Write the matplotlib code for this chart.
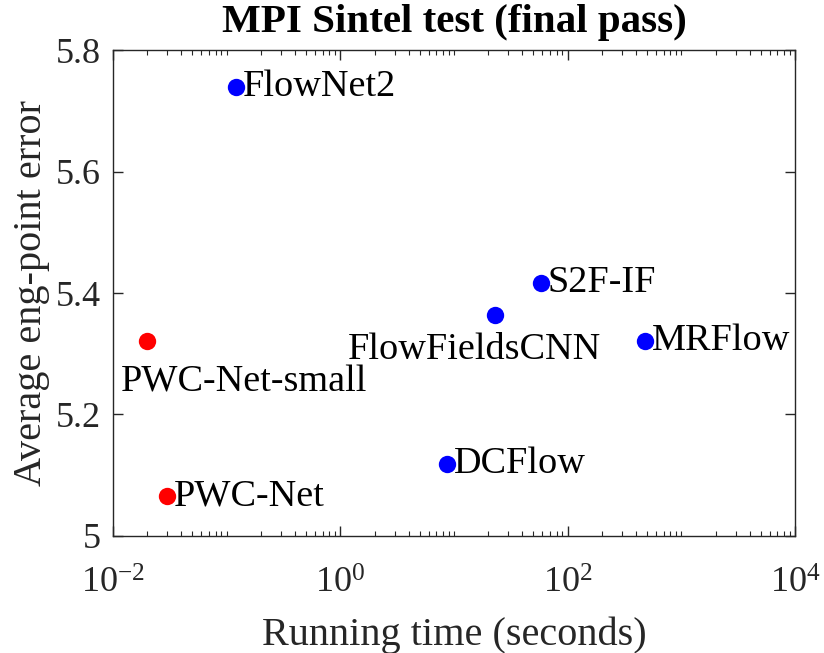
import numpy as np
import matplotlib

matplotlib.use('Agg')
import matplotlib.pyplot as plt
from matplotlib.ticker import LogLocator, NullFormatter

plt.rcParams['font.family'] = ['Liberation Serif', 'DejaVu Serif']
plt.rcParams['mathtext.fontset'] = 'stix'

# running time (s) vs. average end-point error on Sintel final
methods = ["FlowNet2", "PWC-Net-small", "PWC-Net", "DCFlow", "FlowFieldsCNN", "S2F-IF", "MRFlow"]
run_time = [0.12, 0.02, 0.03, 8.6, 23.0, 58.0, 480.0]
epe = [5.739, 5.321, 5.065, 5.119, 5.363, 5.417, 5.321]
ours = [False, True, True, False, False, False, False]

# label placement: offset in points and alignment per method
label_pos = {
    "FlowNet2": ((5, 0), 'left', 'center'),
    "PWC-Net-small": ((-19, -17), 'left', 'top'),
    "PWC-Net": ((5, 0), 'left', 'center'),
    "DCFlow": ((5, 0), 'left', 'center'),
    "FlowFieldsCNN": ((-15, -12), 'center', 'top'),
    "S2F-IF": ((5, 0), 'left', 'center'),
    "MRFlow": ((5, 0), 'left', 'center'),
}

fig = plt.figure(figsize=(8.24, 6.53), dpi=100)
ax = fig.add_axes([0.1371, 0.1792, 0.8277, 0.7442])

for name, t, e, mine in zip(methods, run_time, epe, ours):
    ax.plot(t, e, 'o', color='#ff0000' if mine else '#0000ff', markersize=12.5,
            markeredgewidth=0)
    off, ha, va = label_pos[name]
    ax.annotate(name, (t, e), xytext=off, textcoords='offset points',
                ha=ha, va=va, fontsize=27.5, color='black')

ax.set_xscale('log')
ax.set_xlim(1e-2, 1e4)
ax.set_ylim(5.0, 5.8)
ax.set_xticks([1e-2, 1e0, 1e2, 1e4])
ax.set_xticklabels([r'$\mathregular{10^{-2}}$', r'$\mathregular{10^{0}}$',
                    r'$\mathregular{10^{2}}$', r'$\mathregular{10^{4}}$'])
ax.xaxis.set_minor_locator(LogLocator(base=10, subs=np.arange(1, 10), numticks=30))
ax.xaxis.set_minor_formatter(NullFormatter())
ax.set_yticks([5.0, 5.2, 5.4, 5.6, 5.8])
ax.set_yticklabels(['5', '5.2', '5.4', '5.6', '5.8'])

ax.tick_params(which='both', direction='in', top=True, right=True,
               colors='#262626', labelcolor='#262626', labelsize=26)
ax.tick_params(which='major', length=7, width=1)
ax.tick_params(which='minor', length=3.5, width=0.8)
ax.tick_params(axis='x', pad=23)
ax.tick_params(axis='y', pad=9)
for sp in ax.spines.values():
    sp.set_color('#262626')
    sp.set_linewidth(1)

ax.set_xlabel('Running time (seconds)', fontsize=29, color='#262626', labelpad=11)
ax.set_ylabel('Average eng-point error', fontsize=29, color='#262626', labelpad=4)
ax.set_title('MPI Sintel test (final pass)', fontsize=29.5, fontweight='bold', pad=13)

fig.savefig('out.png', dpi=100)
